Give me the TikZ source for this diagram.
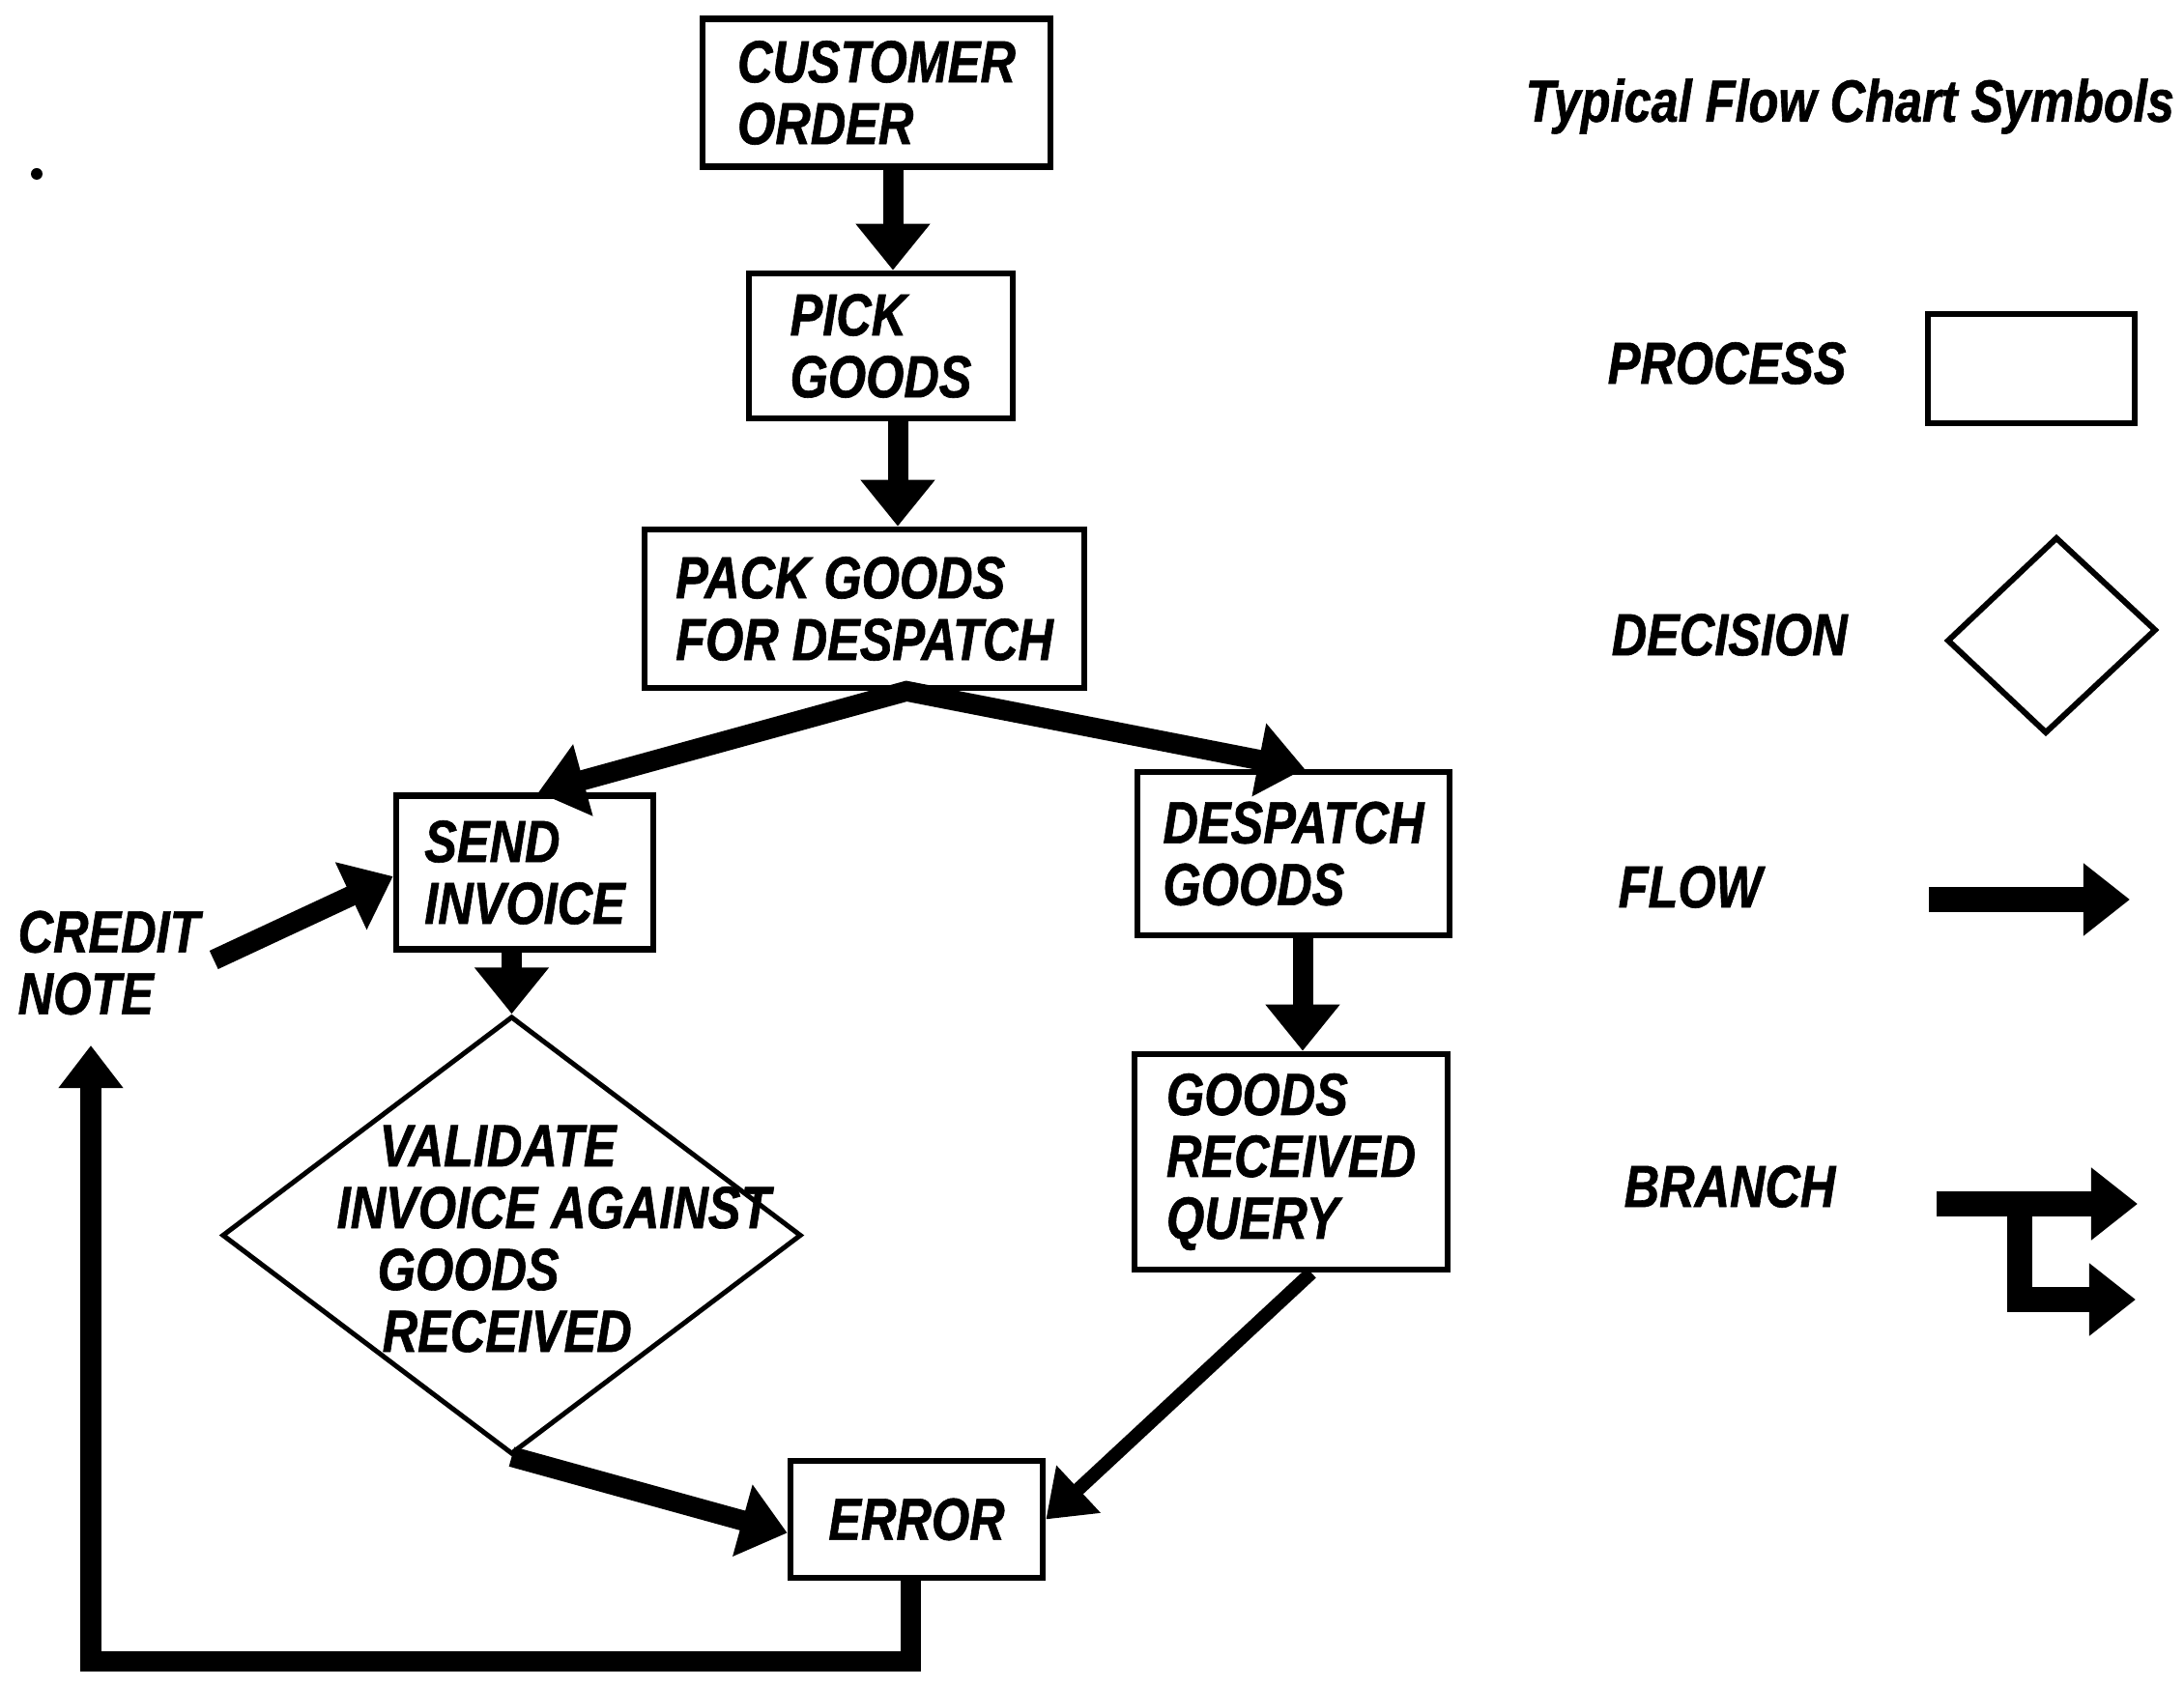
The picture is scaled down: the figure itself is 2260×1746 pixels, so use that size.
\documentclass[tikz,border=0pt]{standalone}
\usepackage{fontspec}
\setmainfont{Liberation Sans}[FakeStretch=0.82, BoldItalicFeatures={FakeBold=1}]
\usetikzlibrary{arrows.meta,shapes.geometric,calc}
\begin{document}
\begin{tikzpicture}[x=0.01cm,y=-0.01cm,
  lab/.style={font=\fontsize{17.5}{18.2}\selectfont\bfseries\itshape, inner sep=0pt, align=left},
  procbox/.style={lab, draw, line width=0.065cm},
  decbox/.style={draw, diamond, line width=0.05cm, inner sep=0pt},
  flow/.style={line width=0.21cm, line join=miter, -{Triangle[width=0.74cm,length=0.48cm]}},
  loopflow/.style={line width=0.21cm, line join=miter, -{Triangle[width=0.64cm,length=0.44cm]}},
  thinflow/.style={line width=0.14cm, -{Triangle[width=0.64cm,length=0.46cm]}},
  legflow/.style={line width=0.26cm, line join=miter, -{Triangle[width=0.72cm,length=0.48cm]}},
  legline/.style={draw, line width=0.06cm, line join=miter},
]
% page frame
\fill[white] (0,0) rectangle (2260,1746);
\useasboundingbox (0,0) rectangle (2260,1746);

% stray mark
\fill (38,180) circle (6);

% process boxes
\node[procbox, minimum width=3.6cm,  minimum height=1.53cm] (CO)  at (907,96)      {CUSTOMER\\ORDER};
\node[procbox, minimum width=2.73cm, minimum height=1.5cm]  (PG)  at (911.5,358)   {PICK\\GOODS};
\node[procbox, minimum width=4.55cm, minimum height=1.64cm] (PK)  at (894.5,630)   {PACK GOODS\\FOR DESPATCH};
\node[procbox, minimum width=2.66cm, minimum height=1.59cm] (SI)  at (543,903)     {SEND\\INVOICE};
\node[procbox, minimum width=3.23cm, minimum height=1.69cm] (DG)  at (1338.5,883.5) {DESPATCH\\GOODS};
\node[procbox, minimum width=3.24cm, minimum height=2.23cm] (GRQ) at (1336,1202.5) {GOODS\\RECEIVED\\QUERY};
\node[procbox, minimum width=2.61cm, minimum height=1.21cm] (ERR) at (948.5,1572.5) {ERROR};

% decision
\node[decbox, minimum width=5.99cm, minimum height=4.53cm] (val) at (529.5,1278.5) {};
\node[lab, anchor=north west] (valtxt) at (348,1164)
  {\hspace*{0.44cm}VALIDATE\\INVOICE AGAINST\\\hspace*{0.42cm}GOODS\\\hspace*{0.47cm}RECEIVED};

% free label
\node[lab, anchor=north west] (CN) at (18,942) {CREDIT\\NOTE};

% flows
\draw[flow] (CO.south -| 924,0) -- (PG.north -| 924,0);
\draw[flow] (PG.south -| 929,0) -- (PK.north -| 929,0);
\draw[flow, {Triangle[width=0.74cm,length=0.48cm]}-{Triangle[width=0.74cm,length=0.48cm]}]
  (SI.north -| 557,0) -- (PK.south -| 938,0) -- (DG.north -| 1350,0);
\draw[flow] ($(CN.east)+(14,-3)$) -- ($(SI.west)+(0,4)$);
\draw[flow] (SI.south -| val.north) -- (val.north);
\draw[flow] (DG.south -| 1348,0) -- (GRQ.north -| 1348,0);
\draw[flow] (val.south) -- ($(ERR.west)+(0,14)$);
\draw[thinflow] (GRQ.south -| 1357,0) -- (ERR.east);
\coordinate (lc) at (94,1719);
\draw[loopflow] (ERR.south -| 942,0) |- (lc) -- ($(CN.south -| lc)+(0,31)$);

% legend
\node[lab, anchor=west] (title) at (1578,110) {Typical Flow Chart Symbols};
\node[lab, anchor=west] (lproc) at (1663,376) {PROCESS};
\node[draw, line width=0.06cm, minimum width=2.14cm, minimum height=1.13cm, inner sep=0pt] (sproc) at (2102,381.5) {};
\node[lab, anchor=west] (ldec) at (1667,657) {DECISION};
\coordinate (d1) at (2128,557);
\coordinate (d2) at (2230,652);
\coordinate (d3) at (2117,758);
\coordinate (d4) at (2016,663);
\path[legline] (d1) -- (d2) -- (d3) -- (d4) -- cycle;
\node[lab, anchor=west] (lflow) at (1674,918) {FLOW};
\coordinate (f1) at (1996,931);
\coordinate (f2) at (2204,931);
\draw[legflow] (f1) -- (f2);
\node[lab, anchor=west] (lbr) at (1680,1228) {BRANCH};
\coordinate (b1) at (2004,1246);
\coordinate (b2) at (2212,1246);
\coordinate (bs) at (2090,1246);
\coordinate (b3) at (2210,1345);
\draw[legflow] (b1) -- (b2);
\draw[legflow] (bs) |- (b3);
\end{tikzpicture}
\end{document}
